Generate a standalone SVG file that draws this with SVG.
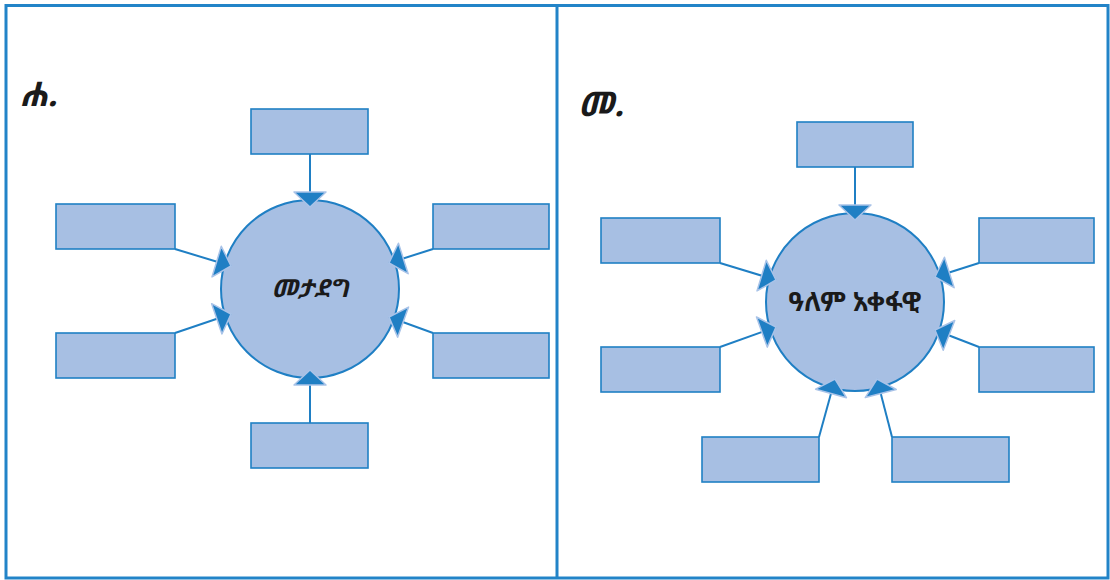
<svg xmlns="http://www.w3.org/2000/svg" width="1110" height="580" viewBox="0 0 1110 580">
<style>
.frame{fill:none;stroke:#2284c8;stroke-width:3}
.box{fill:#a7bfe3;stroke:#2080c4;stroke-width:1.6}
.hub{fill:#a7bfe3;stroke:#1f7fc4;stroke-width:2}
.conn{stroke:#1f7fc4;stroke-width:2;fill:none;marker-end:url(#ah)}
.lbl{font-family:"Noto Sans Ethiopic","Noto Serif Ethiopic","Abyssinica SIL","DejaVu Sans","Noto Sans",sans-serif;font-weight:bold;fill:#1a1a1a}
</style>
<defs>
<marker id="ah" markerUnits="userSpaceOnUse" viewBox="-2 -19 20 38" markerWidth="20" markerHeight="38" refX="15" refY="0" orient="auto" overflow="visible">
<path d="M0,-16 L15,0 L0,16 Z" fill="#1f7fc4" stroke="#a9c3e8" stroke-width="1.5" stroke-linejoin="round"/>
</marker>
</defs>
<g id="frame">
<rect class="frame" x="6" y="5.5" width="1102" height="572.5"/>
<line class="frame" x1="557" y1="5.5" x2="557" y2="578"/>
</g>
<g id="label-a"><text class="lbl" x="20" y="106" font-size="34" font-style="italic">ሐ.</text></g>
<g id="label-b"><text class="lbl" x="578" y="116" font-size="34" font-style="italic">መ.</text></g>
<g id="hub-a">
<circle class="hub" cx="310" cy="289" r="89"/>
<text class="lbl" x="310" y="297" font-size="25" font-style="italic" text-anchor="middle">መታደግ</text>
</g>
<g id="hub-b">
<circle class="hub" cx="855" cy="302" r="89"/>
<text class="lbl" x="855" y="311" font-size="26" text-anchor="middle">ዓለም  አቀፋዊ</text>
</g>
<g id="connectors">
<line class="conn" x1="310" y1="154" x2="310" y2="207"/>
<line class="conn" x1="175" y1="249" x2="231" y2="266"/>
<line class="conn" x1="175" y1="333" x2="231" y2="314"/>
<line class="conn" x1="433" y1="249" x2="389" y2="263"/>
<line class="conn" x1="433" y1="333" x2="389" y2="317"/>
<line class="conn" x1="310" y1="423" x2="310" y2="370"/>
<line class="conn" x1="855" y1="167" x2="855" y2="220"/>
<line class="conn" x1="720" y1="263" x2="776" y2="280"/>
<line class="conn" x1="720" y1="347" x2="776" y2="327"/>
<line class="conn" x1="979" y1="263" x2="935" y2="277"/>
<line class="conn" x1="979" y1="347" x2="935" y2="330"/>
<line class="conn" x1="819" y1="437" x2="835" y2="379"/>
<line class="conn" x1="892" y1="437" x2="877" y2="379"/>
</g>
<g id="a-top"><rect class="box" x="251" y="109" width="117" height="45"/></g>
<g id="a-lu"><rect class="box" x="56" y="204" width="119" height="45"/></g>
<g id="a-ru"><rect class="box" x="433" y="204" width="116" height="45"/></g>
<g id="a-ll"><rect class="box" x="56" y="333" width="119" height="45"/></g>
<g id="a-rl"><rect class="box" x="433" y="333" width="116" height="45"/></g>
<g id="a-bot"><rect class="box" x="251" y="423" width="117" height="45"/></g>
<g id="b-top"><rect class="box" x="797" y="122" width="116" height="45"/></g>
<g id="b-lu"><rect class="box" x="601" y="218" width="119" height="45"/></g>
<g id="b-ru"><rect class="box" x="979" y="218" width="115" height="45"/></g>
<g id="b-ll"><rect class="box" x="601" y="347" width="119" height="45"/></g>
<g id="b-rl"><rect class="box" x="979" y="347" width="115" height="45"/></g>
<g id="b-bl"><rect class="box" x="702" y="437" width="117" height="45"/></g>
<g id="b-br"><rect class="box" x="892" y="437" width="117" height="45"/></g>
</svg>
